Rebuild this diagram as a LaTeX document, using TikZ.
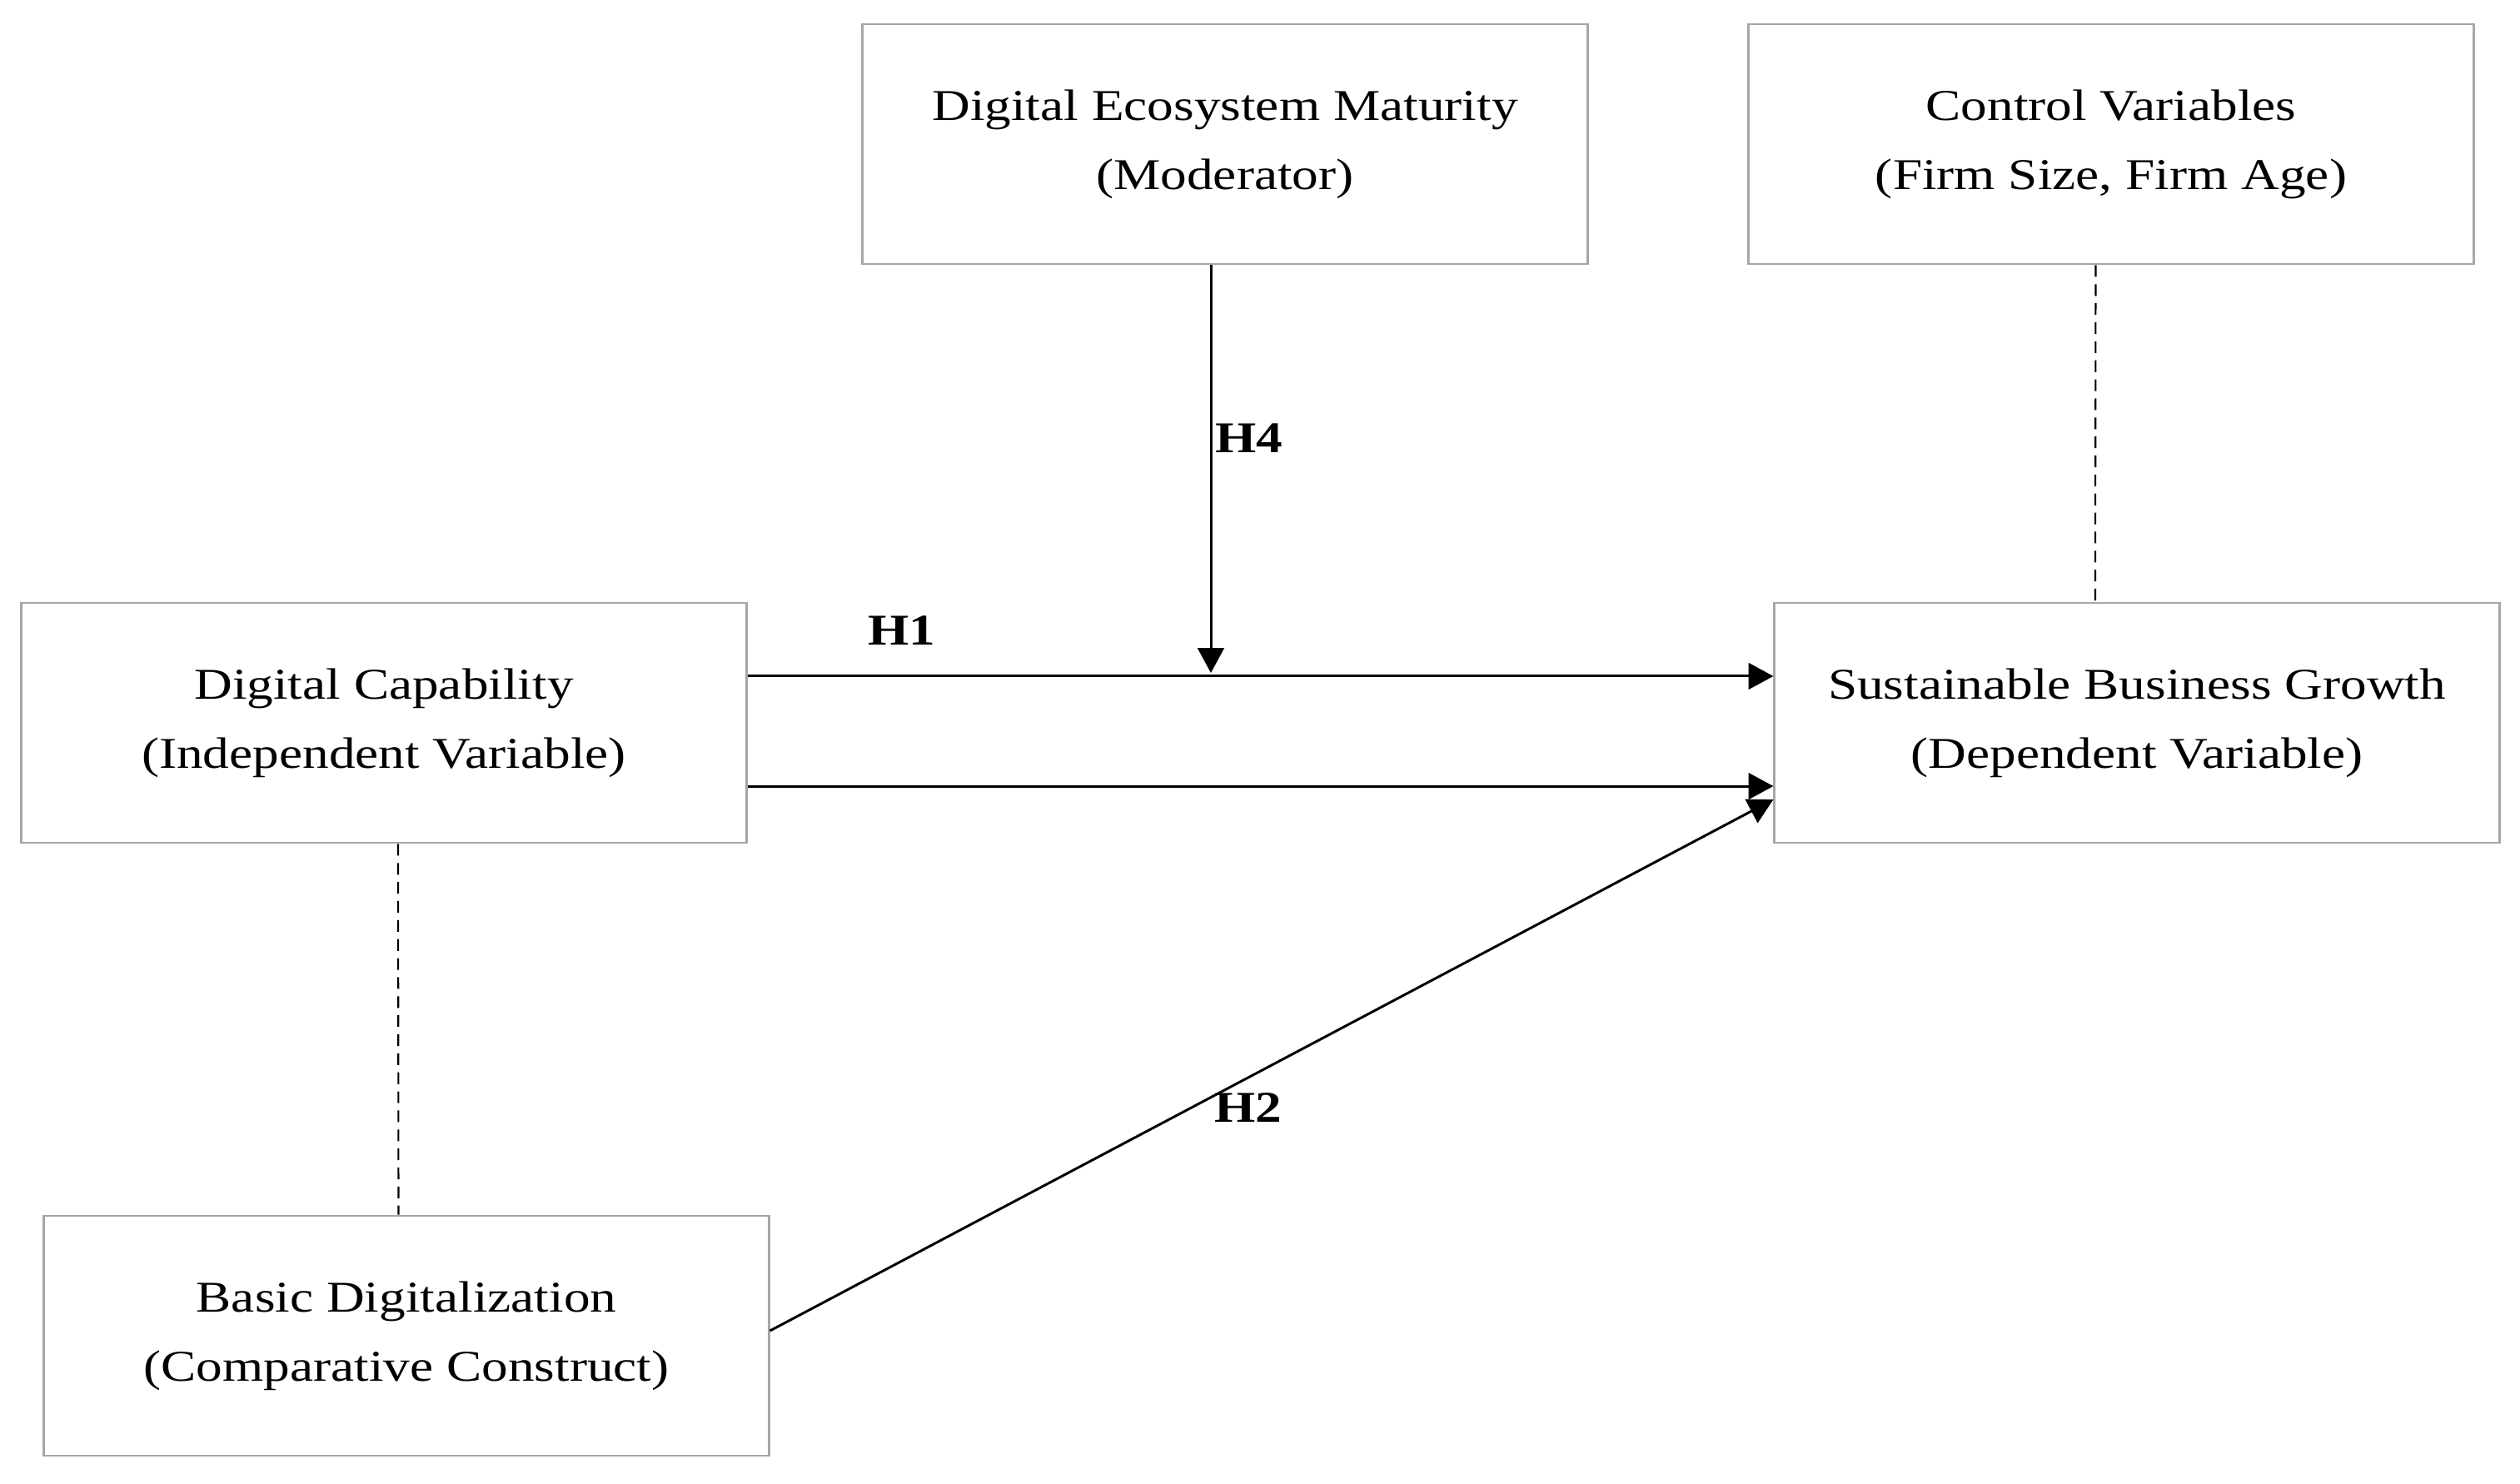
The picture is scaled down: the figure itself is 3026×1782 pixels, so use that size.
\documentclass[tikz,border=0pt]{standalone}
\usepackage{fontspec}
\setmainfont[FakeStretch=1.2]{Liberation Serif}
\usetikzlibrary{arrows.meta}
\usetikzlibrary{positioning}

\definecolor{boxgray}{HTML}{A6A6A6}
\tikzset{
  construct/.style={draw=boxgray, line width=0.75pt, minimum width=8.7cm,
    minimum height=2.88cm, align=center, inner sep=0pt,
    font=\fontsize{15}{23.6}\selectfont},
  hyp/.style={font=\fontsize{15}{18}\selectfont\bfseries},
  link/.style={draw=black, line width=0.85pt},
  ctrl/.style={draw=black, line width=0.6pt, dash pattern=on 4pt off 2.5pt},
}

\begin{document}
\begin{tikzpicture}[x=0.01cm, y=-0.01cm, >={Triangle[length=8.5pt,width=9pt]}]
  \useasboundingbox (0,0) rectangle (3026,1782);
  % Constructs of the model
  \node[construct] (dem)  at (1471,173)  {Digital Ecosystem Maturity\\(Moderator)};
  \node[construct] (ctrl) at (2535,173)  {Control Variables\\(Firm Size, Firm Age)};
  \node[construct] (dc)   at (461,868)   {Digital Capability\\(Independent Variable)};
  \node[construct] (sbg)  at (2566,868)  {Sustainable Business Growth\\(Dependent Variable)};
  \node[construct] (bd)   at (488,1604)  {Basic Digitalization\\(Comparative Construct)};

  % Hypothesised paths
  \draw[link,->] ([yshift=0.56cm]dc.east) -- ([yshift=0.56cm]sbg.west);
  \draw[link,->] ([yshift=-0.76cm]dc.east) -- ([yshift=-0.76cm]sbg.west);
  \draw[link,->] ([yshift=0.06cm]bd.east) -- ([yshift=-0.92cm]sbg.west);
  \coordinate (h4end) at (1454,808);
  \draw[link,->] (dem.south -| h4end) -- (h4end);

  % Non-hypothesised links
  \draw[ctrl] ([xshift=0.17cm]dc.south) -- ([xshift=-0.095cm]bd.north);
  \draw[ctrl] ([xshift=-0.185cm]ctrl.south) -- ([xshift=-0.5cm]sbg.north);

  % Labels
  \node[hyp] (h1) at (1083,757)  {H1};
  \node[hyp] (h4) at (1500,526)  {H4};
  \node[hyp] (h2) at (1499,1330) {H2};
\end{tikzpicture}
\end{document}
